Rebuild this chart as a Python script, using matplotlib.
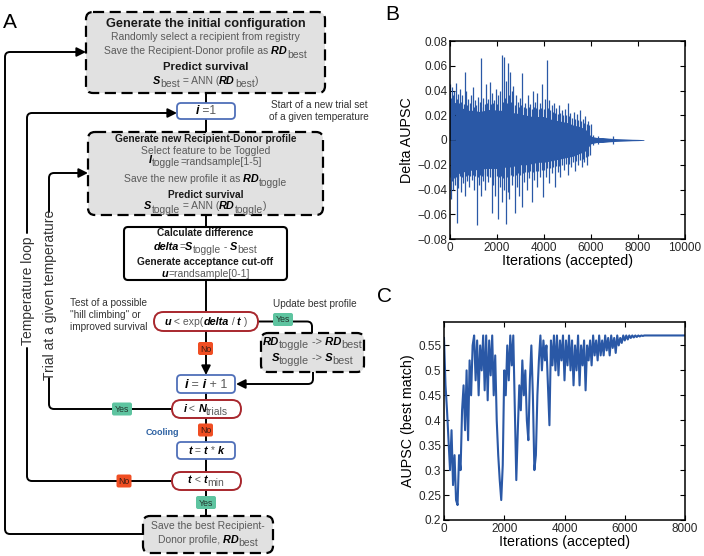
import matplotlib.pyplot as plt
import numpy as np
from matplotlib.patches import FancyArrowPatch, FancyBboxPatch
from matplotlib.path import Path

plt.rcParams["font.family"] = ["Liberation Sans", "DejaVu Sans"]

# ---- panel B: delta AUPSC, dense band envelope + individual spikes
b_iter = np.arange(0, 8251, 250)
b_upper = [0.032, 0.030, 0.026, 0.024, 0.024, 0.023, 0.024, 0.025, 0.024, 0.024,
           0.022, 0.022, 0.021, 0.020, 0.019, 0.019, 0.019, 0.017, 0.016, 0.015,
           0.014, 0.012, 0.011, 0.009, 0.003, 0.002, 0.002, 0.0015, 0.0012, 0.001,
           0.0008, 0.0006, 0.0005, 0.0003]
b_lower = [-0.030, -0.028, -0.026, -0.025, -0.024, -0.024, -0.023, -0.023, -0.023, -0.022,
           -0.022, -0.021, -0.020, -0.020, -0.019, -0.018, -0.018, -0.017, -0.016, -0.015,
           -0.014, -0.013, -0.011, -0.009, -0.003, -0.002, -0.002, -0.0015, -0.0012, -0.001,
           -0.0008, -0.0006, -0.0005, -0.0003]
b_up_x = [20, 60, 90, 130, 170, 250, 290, 330, 380, 420, 470, 520, 580, 640, 700, 740,
          780, 830, 880, 960, 1010, 1060, 1120, 1180, 1260, 1300, 1340, 1420, 1480, 1530,
          1580, 1620, 1700, 1740, 1790, 1840, 1880, 1960, 2010, 2060, 2130, 2200, 2250,
          2290, 2330, 2380, 2420, 2460, 2500, 2540, 2580, 2620, 2700, 2750, 2800, 2880,
          2930, 2980, 3030, 3080, 3130, 3180, 3240, 3300, 3360, 3420, 3470, 3520, 3570,
          3620, 3680, 3720, 3770, 3820, 3870, 3920, 3980, 4030, 4110, 4160, 4200, 4260,
          4320, 4370, 4420, 4480, 4530, 4590, 4640, 4700, 4760, 4820, 4880, 4940, 5000,
          5060, 5120, 5190, 5260, 5330, 5400, 5460, 5520, 5590, 5650, 5700, 5760, 5810,
          5860, 5920, 5980, 6100, 6300, 6950]
b_up_y = [0.045, 0.034, 0.043, 0.036, 0.040, 0.046, 0.033, 0.037, 0.030, 0.041, 0.031,
          0.036, 0.029, 0.055, 0.040, 0.028, 0.033, 0.030, 0.036, 0.043, 0.027, 0.032,
          0.028, 0.035, 0.031, 0.027, 0.066, 0.034, 0.029, 0.045, 0.030, 0.033, 0.047,
          0.029, 0.038, 0.030, 0.032, 0.041, 0.029, 0.036, 0.040, 0.069, 0.031, 0.067,
          0.034, 0.048, 0.030, 0.062, 0.036, 0.055, 0.031, 0.040, 0.044, 0.028, 0.036,
          0.031, 0.027, 0.034, 0.028, 0.054, 0.027, 0.030, 0.026, 0.036, 0.027, 0.029,
          0.025, 0.040, 0.027, 0.031, 0.026, 0.038, 0.025, 0.030, 0.026, 0.045, 0.025,
          0.033, 0.065, 0.026, 0.032, 0.024, 0.028, 0.023, 0.030, 0.022, 0.026, 0.021,
          0.028, 0.022, 0.024, 0.020, 0.025, 0.020, 0.030, 0.019, 0.022, 0.018, 0.023,
          0.017, 0.021, 0.016, 0.024, 0.015, 0.017, 0.014, 0.019, 0.013, 0.015, 0.012,
          0.013, 0.004, 0.003, 0.003]
b_dn_x = [40, 80, 110, 160, 200, 240, 280, 320, 360, 410, 450, 500, 560, 620, 670, 720,
          770, 820, 870, 920, 970, 1010, 1070, 1130, 1180, 1230, 1280, 1320, 1370, 1420,
          1470, 1510, 1570, 1620, 1690, 1770, 1810, 1850, 1920, 1980, 2060, 2100, 2140,
          2180, 2220, 2260, 2300, 2370, 2410, 2450, 2490, 2530, 2590, 2640, 2700, 2770,
          2810, 2850, 2890, 2930, 2990, 3050, 3100, 3150, 3200, 3260, 3320, 3370, 3420,
          3480, 3540, 3590, 3650, 3700, 3760, 3830, 3900, 3970, 4020, 4080, 4140, 4200,
          4270, 4330, 4400, 4460, 4520, 4580, 4640, 4700, 4770, 4840, 4920, 5000, 5070,
          5150, 5230, 5300, 5380, 5450, 5530, 5600, 5660, 5720, 5770, 5820, 5880, 5950,
          6100, 6300, 6950]
b_dn_y = [-0.048, -0.033, -0.040, -0.031, -0.036, -0.030, -0.067, -0.032, -0.039, -0.029,
          -0.042, -0.030, -0.035, -0.045, -0.029, -0.033, -0.028, -0.038, -0.029, -0.032,
          -0.028, -0.040, -0.029, -0.069, -0.030, -0.036, -0.028, -0.045, -0.029, -0.033,
          -0.028, -0.040, -0.029, -0.034, -0.030, -0.059, -0.030, -0.036, -0.045, -0.029,
          -0.064, -0.030, -0.038, -0.029, -0.050, -0.031, -0.040, -0.068, -0.030, -0.042,
          -0.029, -0.048, -0.028, -0.036, -0.029, -0.059, -0.028, -0.038, -0.027, -0.045,
          -0.028, -0.054, -0.027, -0.034, -0.026, -0.040, -0.026, -0.031, -0.025, -0.050,
          -0.026, -0.032, -0.025, -0.038, -0.025, -0.030, -0.024, -0.046, -0.024, -0.030,
          -0.023, -0.035, -0.023, -0.027, -0.022, -0.038, -0.021, -0.026, -0.021, -0.030,
          -0.020, -0.024, -0.019, -0.028, -0.019, -0.022, -0.018, -0.025, -0.017, -0.020,
          -0.016, -0.022, -0.015, -0.018, -0.014, -0.020, -0.013, -0.012, -0.004, -0.003,
          -0.003]
b_yticks = [-0.08, -0.06, -0.04, -0.02, 0, 0.02, 0.04, 0.06, 0.08]
b_ylabels = ["\u22120.08", "\u22120.06", "\u22120.04", "\u22120.02", "0",
             "0.02", "0.04", "0.06", "0.08"]

# ---- panel C: best-match AUPSC every 50 accepted iterations
c_iter = np.arange(0, 8001, 50)
c_aupsc = [0.565, 0.47, 0.42, 0.36, 0.30, 0.38, 0.27, 0.33, 0.24, 0.23,
           0.33, 0.30, 0.42, 0.47, 0.38, 0.50, 0.36, 0.52, 0.45, 0.55,
           0.57, 0.48, 0.56, 0.45, 0.55, 0.50, 0.57, 0.46, 0.57, 0.44,
           0.56, 0.49, 0.57, 0.45, 0.53, 0.40, 0.33, 0.28, 0.24, 0.31,
           0.50, 0.45, 0.55, 0.48, 0.57, 0.51, 0.57, 0.42, 0.28, 0.38,
           0.47, 0.42, 0.52, 0.45, 0.50, 0.40, 0.36, 0.48, 0.55, 0.45,
           0.30, 0.33, 0.45, 0.52, 0.57, 0.50, 0.56, 0.52, 0.55, 0.47,
           0.39, 0.56, 0.51, 0.57, 0.50, 0.57, 0.49, 0.56, 0.52, 0.57,
           0.48, 0.56, 0.51, 0.57, 0.50, 0.56, 0.47, 0.55, 0.50, 0.57,
           0.47, 0.55, 0.51, 0.56, 0.46, 0.55, 0.52, 0.56, 0.51, 0.57,
           0.53, 0.56, 0.52, 0.57, 0.53, 0.56, 0.53, 0.57, 0.54, 0.565,
           0.53, 0.57, 0.545, 0.565, 0.535, 0.57, 0.55, 0.565, 0.555, 0.57,
           0.56, 0.57, 0.562, 0.57, 0.565, 0.57, 0.566, 0.57, 0.567, 0.57,
           0.568, 0.57, 0.569, 0.57, 0.57, 0.57, 0.57, 0.57, 0.57, 0.57,
           0.57, 0.57, 0.57, 0.57, 0.57, 0.57, 0.57, 0.57, 0.57, 0.57,
           0.57, 0.57, 0.57, 0.57, 0.57, 0.57, 0.57, 0.57, 0.57, 0.57,
           0.57]
c_yticks = [0.2, 0.25, 0.3, 0.35, 0.4, 0.45, 0.5, 0.55]
c_ylabels = ["0.2", "0.25", "0.3", "0.35", "0.4", "0.45", "0.5", "0.55"]

LINE_BLUE = "#2a58a6"
EDGE_BLUE = "#4f6fb9"
EDGE_RED = "#a8272d"
GREY_FILL = "#e1e1e1"
GREY_TXT = "#5a5a5a"
YES_GREEN = "#5ec4a0"
NO_RED = "#f04e23"

fig = plt.figure(figsize=(7.04, 5.56), dpi=100)
ax = fig.add_axes([0, 0, 1, 1])
ax.set_xlim(0, 704)
ax.set_ylim(556, 0)
ax.axis("off")
renderer = fig.canvas.get_renderer()

STYLES = {
    "g": dict(color=GREY_TXT, fontsize=7.5),
    "t": dict(color="#1a1a1a", fontsize=7.3, fontweight="bold"),
    "P": dict(color="#1a1a1a", fontsize=8.2, fontweight="bold"),
    "T": dict(color="#1a1a1a", fontsize=9.2, fontweight="bold"),
    "v": dict(color="black", fontsize=7.8, fontweight="bold", fontstyle="italic"),
    "a": dict(color="#333333", fontsize=7.2),
}


def rich(x, y, parts, ha="center", scale=1.0):
    # draw text segments side by side on one baseline
    texts = []
    for part in parts:
        s, key = part[0], part[1]
        dy = part[2] if len(part) > 2 else 0
        kw = dict(STYLES[key])
        kw["fontsize"] *= scale
        texts.append((ax.text(0, 0, s, va="baseline", ha="left", zorder=5, **kw), dy))
    widths = [t.get_window_extent(renderer).width for t, _ in texts]
    x0 = x - sum(widths) / 2 if ha == "center" else x
    for (t, dy), w in zip(texts, widths):
        t.set_position((x0, y + dy))
        x0 += w


def box(x0, y0, x1, y1, kind):
    if kind == "dash":
        kw = dict(fc=GREY_FILL, ec="black", lw=1.6, ls=(0, (5, 2.5)))
        r = 7
    elif kind == "solid":
        kw = dict(fc="white", ec="black", lw=1.5)
        r = 4
    elif kind == "blue":
        kw = dict(fc="white", ec=EDGE_BLUE, lw=1.3)
        r = 4
    else:
        kw = dict(fc="white", ec=EDGE_RED, lw=1.4)
        r = (y1 - y0) / 2
    ax.add_patch(FancyBboxPatch((x0, y0), x1 - x0, y1 - y0,
                                boxstyle=f"round,pad=0,rounding_size={r}",
                                zorder=3, **kw))


def badge(cx, cy, label):
    yes = label == "Yes"
    w = 20 if yes else 15
    ax.add_patch(FancyBboxPatch((cx - w / 2, cy - 6.5), w, 13,
                                boxstyle="round,pad=0,rounding_size=2",
                                fc=YES_GREEN if yes else NO_RED, ec="none", zorder=4))
    ax.text(cx, cy + 0.5, label, ha="center", va="center", fontsize=6.3,
            color="#23352e" if yes else "#3a1a12", zorder=5)


def route(pts, arrow=False, r=5):
    verts, codes = [pts[0]], [Path.MOVETO]
    for a, p, b in zip(pts[:-2], pts[1:-1], pts[2:]):
        a, p, b = np.array(a, float), np.array(p, float), np.array(b, float)
        d1 = (p - a) / np.linalg.norm(p - a)
        d2 = (b - p) / np.linalg.norm(b - p)
        verts += [tuple(p - r * d1), tuple(p), tuple(p + r * d2)]
        codes += [Path.LINETO, Path.CURVE3, Path.CURVE3]
    verts.append(pts[-1])
    codes.append(Path.LINETO)
    path = Path(verts, codes)
    style = "-|>,head_length=0.6,head_width=0.3" if arrow else "-"
    ax.add_patch(FancyArrowPatch(path=path, arrowstyle=style, mutation_scale=9,
                                 color="black", lw=1.4, zorder=1))


# connectors along the main column
cx = 206
for y0, y1 in [(93, 103), (119, 132), (215, 227), (280, 312), (393, 400),
               (418, 442), (459, 472), (490, 516)]:
    route([(cx, y0), (cx, y1)])
route([(cx, 331), (cx, 375)], arrow=True)

# update best branch
route([(258, 321.5), (312, 321.5), (312, 333)])
route([(313, 372), (313, 384), (236, 384)], arrow=True)

# loops
route([(172, 409), (49, 409), (49, 378)])
route([(49, 212), (49, 173), (88, 173)], arrow=True)
route([(172, 481), (27, 481), (27, 348)])
route([(27, 233), (27, 113), (177, 113)], arrow=True)
route([(143, 534), (5, 534), (5, 52), (86, 52)], arrow=True)

# boxes
box(86, 12, 325, 93, "dash")
box(177, 103, 235, 119, "blue")
box(88, 132, 323, 215, "dash")
box(124, 227, 287, 280, "solid")
box(154, 312, 258, 331, "oval")
box(261, 333, 364, 372, "dash")
box(177, 375, 235, 393, "blue")
box(172, 400, 241, 418, "oval")
box(177, 442, 235, 459, "blue")
box(172, 472, 241, 490, "oval")
box(143, 516, 273, 553, "dash")

badge(283, 319.5, "Yes")
badge(205.5, 348.5, "No")
badge(122, 409, "Yes")
badge(205.5, 430, "No")
badge(124, 481, "No")
badge(206, 502.5, "Yes")

# box texts
bx = 205.5
rich(bx, 26.5, [("Generate the initial configuration", "T")])
rich(bx, 40, [("Randomly select a recipient from registry", "g")])
rich(bx, 54.5, [("Save the Recipient-Donor profile as", "g"), (" RD", "v"), ("best", "g", 3.5)])
rich(bx, 70.5, [("Predict survival", "P")])
rich(bx, 83.5, [("S", "v"), ("best", "g", 3.5), (" = ANN (", "g"), ("RD", "v"),
                ("best", "g", 3.5), (")", "g")])

rich(cx, 114.3, [("i", "v"), (" =1", "g")], scale=1.15)

rich(bx, 141.8, [("Generate new Recipient-Donor profile", "t")])
rich(bx, 153.5, [("Select feature to be Toggled", "g")])
rich(bx, 163, [("I", "v"), ("toggle", "g", 3.5), ("=randsample[1-5]", "g", 2)])
rich(bx, 182.3, [("Save the new profile it as", "g"), (" RD", "v"), ("toggle", "g", 3.5)])
rich(bx, 198.3, [("Predict survival", "t")])
rich(bx, 209.3, [("S", "v"), ("toggle", "g", 3.5), (" = ANN (", "g"), ("RD", "v"),
                 ("toggle", "g", 3.5), (")", "g")])

rich(bx, 236, [("Calculate difference", "t")])
rich(bx, 250, [("delta", "v"), ("=", "g"), ("S", "v"), ("toggle", "g", 3), (" -", "g"),
               (" S", "v"), ("best", "g", 3)])
rich(bx, 265, [("Generate acceptance cut-off", "t")])
rich(bx, 277.3, [("u", "v"), ("=randsample[0-1]", "g")])

rich(cx, 325, [("u", "v"), (" < exp(", "g"), ("delta", "v"), (" /", "g"), (" t", "v"),
               (" )", "g")])

rich(312.5, 345, [("RD", "v"), ("toggle", "g", 3.5), (" ->", "g"), (" RD", "v"),
                  ("best", "g", 3.5)], scale=1.04)
rich(312.5, 361, [("S", "v"), ("toggle", "g", 3.5), (" ->", "g"), (" S", "v"),
                  ("best", "g", 3.5)], scale=1.04)

rich(cx, 387.5, [("i", "v"), (" =", "g"), (" i", "v"), (" + 1", "g")], scale=1.2)
rich(cx, 411.5, [("i", "v"), (" <", "g"), (" N", "v"), ("trials", "g", 3.5)])
rich(cx, 454, [("t", "v"), (" =", "g"), (" t", "v"), (" *", "g"), (" k", "v")])
rich(cx, 483, [("t", "v"), (" <", "g"), (" t", "v"), ("min", "g", 3.5)])
rich(208, 529.3, [("Save the best Recipient-", "g")])
rich(208, 542.7, [("Donor profile,", "g"), (" RD", "v"), ("best", "g", 3.5)])

# side notes
rich(319, 108.3, [("Start of a new trial set", "a")])
rich(319, 120, [("of a given temperature", "a")])
rich(70, 306, [("Test of a possible", "a")], ha="left")
rich(70, 318.3, [("\"hill climbing\" or", "a")], ha="left")
rich(70, 330, [("improved survival", "a")], ha="left")
rich(315, 306.7, [("Update best profile", "a")])
ax.text(162, 435, "Cooling", ha="center", va="baseline", fontsize=6.5,
        fontweight="bold", color="#2e62a3")
ax.text(50, 295, "Trial at a given temperature", rotation=90, ha="center",
        va="center", fontsize=10, color="#333333")
ax.text(28, 290.5, "Temperature loop", rotation=90, ha="center", va="center",
        fontsize=10, color="#333333")

# panel letters
ax.text(10, 22, "A", ha="center", va="center", fontsize=15)
ax.text(392, 14, "B", ha="center", va="center", fontsize=15)
ax.text(385, 297, "C", ha="center", va="center", fontsize=15)


def style_axes(a):
    for sp in a.spines.values():
        sp.set_linewidth(1.1)
    a.tick_params(direction="in", top=True, right=True, length=3.5, width=0.8,
                  labelsize=8.5, labelcolor="#262626", pad=2)


# panel B
axB = fig.add_axes([450 / 704, 1 - 239 / 556, 235 / 704, 198 / 556])
axB.fill_between(b_iter, b_lower, b_upper, color=LINE_BLUE, lw=0)
axB.vlines(b_up_x, 0, b_up_y, color=LINE_BLUE, lw=0.9)
axB.vlines(b_dn_x, 0, b_dn_y, color=LINE_BLUE, lw=0.9)
axB.set_xlim(0, 10000)
axB.set_ylim(-0.08, 0.08)
axB.set_xticks([0, 2000, 4000, 6000, 8000, 10000])
axB.set_yticks(b_yticks)
axB.set_yticklabels(b_ylabels)
axB.set_xlabel("Iterations (accepted)", fontsize=10.3, labelpad=0)
axB.set_ylabel("Delta AUPSC", fontsize=10.3, labelpad=2)
style_axes(axB)

# panel C
axC = fig.add_axes([444 / 704, 1 - 520 / 556, 241 / 704, 198 / 556])
axC.plot(c_iter, c_aupsc, color=LINE_BLUE, lw=1.5)
axC.set_xlim(0, 8000)
axC.set_ylim(0.2, 0.597)
axC.set_xticks([0, 2000, 4000, 6000, 8000])
axC.set_yticks(c_yticks)
axC.set_yticklabels(c_ylabels)
axC.set_xlabel("Iterations (accepted)", fontsize=10.3, labelpad=0)
axC.set_ylabel("AUPSC (best match)", fontsize=10.3, labelpad=2)
style_axes(axC)

fig.savefig("out.png", dpi=100)
